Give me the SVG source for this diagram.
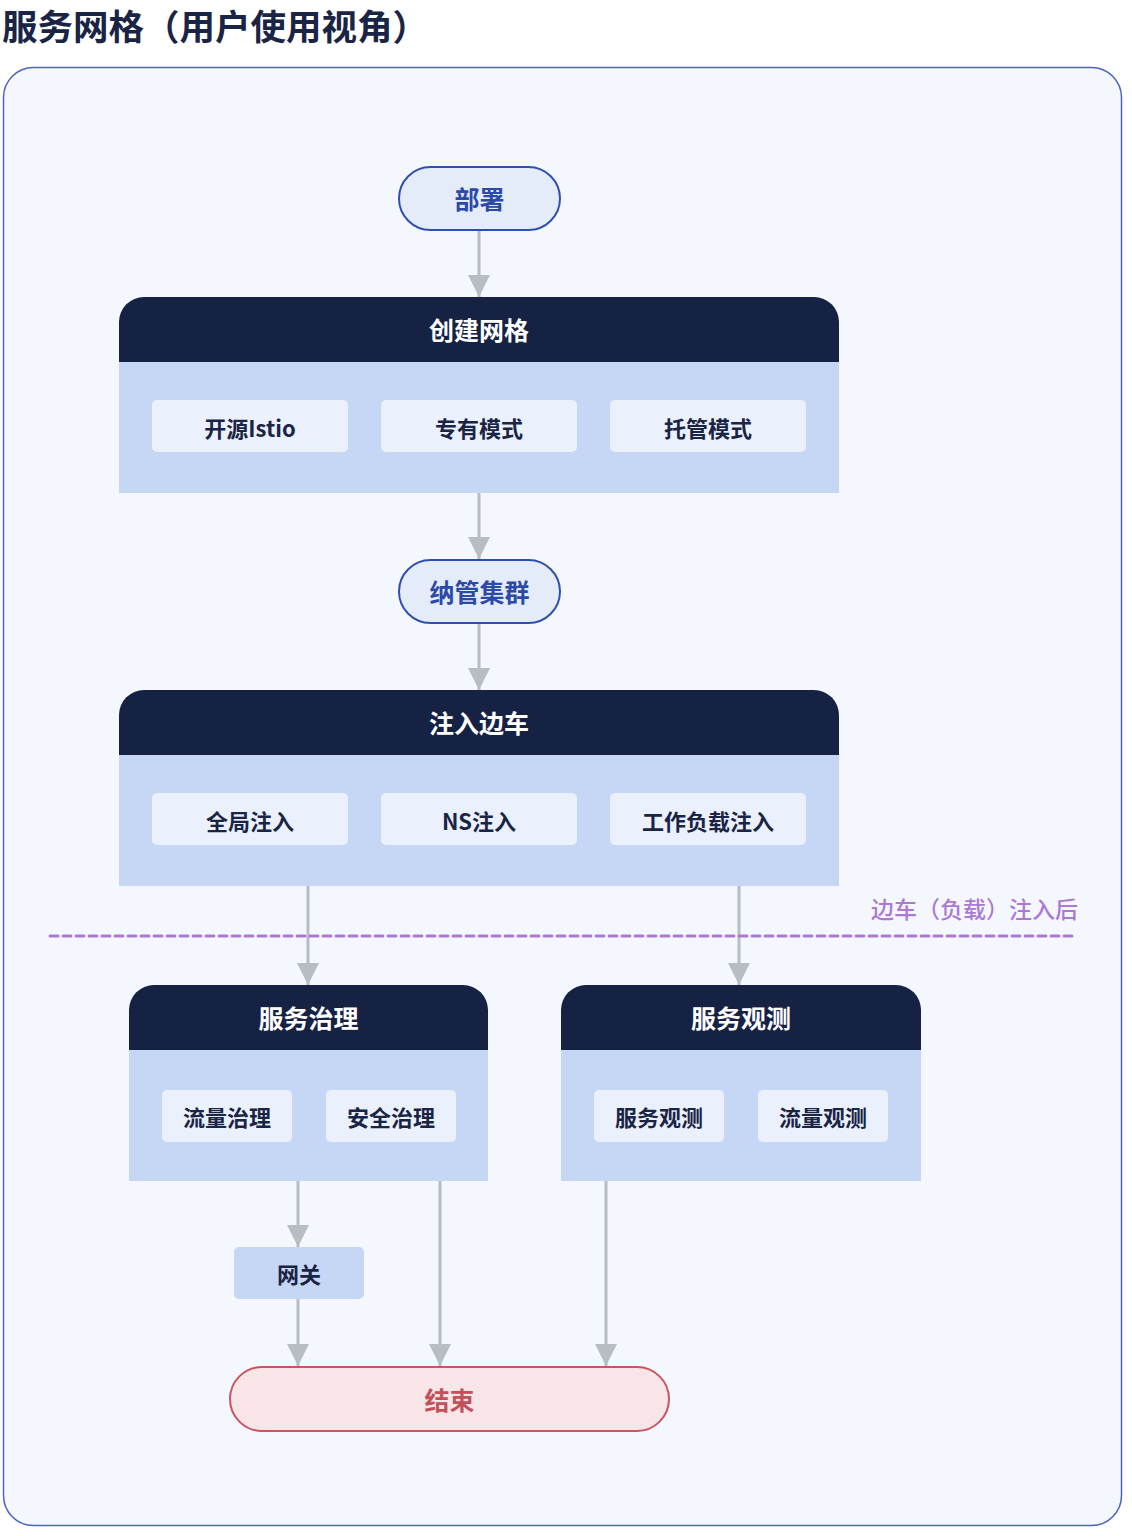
<svg xmlns="http://www.w3.org/2000/svg" width="1132" height="1536" viewBox="0 0 1132 1536">
<defs>
<style>
text{font-family:"Noto Sans CJK SC","Noto Sans",sans-serif;text-anchor:middle;dominant-baseline:central}
.title{font-size:35.5px;font-weight:700;fill:#1a2444;text-anchor:start;dominant-baseline:auto}
.pill{fill:#e4ebf9;stroke:#2f4fb0;stroke-width:2}
.pilltxt{font-size:25px;font-weight:700;fill:#2b4aa8}
.hdr{fill:#162244}
.hdrtxt{font-size:25px;font-weight:700;fill:#ffffff}
.body{fill:#c6d7f5}
.item{fill:#eaf1fd}
.itemtxt{font-size:22px;font-weight:700;fill:#1a2444}
.conn{stroke:#b8bcc3;stroke-width:3;fill:none}
.sep{stroke:#ac78d6;stroke-width:3;stroke-dasharray:8 5;stroke-linecap:round;fill:none}
.septxt{font-size:23px;font-weight:500;fill:#ac78d6;text-anchor:end}
.endp{fill:#f8e5e7;stroke:#c95560;stroke-width:2}
.endtxt{font-size:25px;font-weight:700;fill:#c4505a}
</style>
<marker id="arr" viewBox="0 0 22 22" refX="22" refY="11" markerWidth="22" markerHeight="22" markerUnits="userSpaceOnUse" orient="auto">
<path d="M0,0 L22,11 L0,22 Z" fill="#b8bcc3"/>
</marker>
</defs>
<rect width="1132" height="1536" fill="#ffffff"/>
<text class="title" x="2" y="40">服务网格（用户使用视角）</text>
<rect id="container" x="3.5" y="67.5" width="1118" height="1458" rx="30" fill="#f4f8fe" stroke="#4a64c0" stroke-width="1.5"/>

<g id="connectors">
<line class="conn" x1="479" y1="231" x2="479" y2="297" marker-end="url(#arr)"/>
<line class="conn" x1="479" y1="493" x2="479" y2="559" marker-end="url(#arr)"/>
<line class="conn" x1="479" y1="624" x2="479" y2="690" marker-end="url(#arr)"/>
<line class="conn" x1="308" y1="886" x2="308" y2="985" marker-end="url(#arr)"/>
<line class="conn" x1="739" y1="886" x2="739" y2="985" marker-end="url(#arr)"/>
<line class="conn" x1="298" y1="1181" x2="298" y2="1247" marker-end="url(#arr)"/>
<line class="conn" x1="298" y1="1299" x2="298" y2="1366" marker-end="url(#arr)"/>
<line class="conn" x1="440" y1="1181" x2="440" y2="1366" marker-end="url(#arr)"/>
<line class="conn" x1="606" y1="1181" x2="606" y2="1366" marker-end="url(#arr)"/>
</g>

<g id="separator">
<line class="sep" x1="50" y1="936" x2="1077" y2="936"/>
<text class="septxt" x="1078" y="908">边车（负载）注入后</text>
</g>

<g id="deploy">
<rect class="pill" x="399" y="167" width="161" height="63" rx="31.5"/>
<text class="pilltxt" x="479.5" y="198">部署</text>
</g>

<g id="create-mesh">
<path class="hdr" d="M119,362 V322 A25,25 0 0 1 144,297 H814 A25,25 0 0 1 839,322 V362 Z"/>
<rect class="body" x="119" y="362" width="720" height="131"/>
<text class="hdrtxt" x="479" y="329">创建网格</text>
<rect class="item" x="152" y="400" width="196" height="52" rx="5"/>
<text class="itemtxt" x="250" y="427">开源Istio</text>
<rect class="item" x="381" y="400" width="196" height="52" rx="5"/>
<text class="itemtxt" x="479" y="427">专有模式</text>
<rect class="item" x="610" y="400" width="196" height="52" rx="5"/>
<text class="itemtxt" x="708" y="427">托管模式</text>
</g>

<g id="manage-cluster">
<rect class="pill" x="399" y="560" width="161" height="63" rx="31.5"/>
<text class="pilltxt" x="479.5" y="591">纳管集群</text>
</g>

<g id="inject-sidecar">
<path class="hdr" d="M119,755 V715 A25,25 0 0 1 144,690 H814 A25,25 0 0 1 839,715 V755 Z"/>
<rect class="body" x="119" y="755" width="720" height="131"/>
<text class="hdrtxt" x="479" y="722">注入边车</text>
<rect class="item" x="152" y="793" width="196" height="52" rx="5"/>
<text class="itemtxt" x="250" y="820">全局注入</text>
<rect class="item" x="381" y="793" width="196" height="52" rx="5"/>
<text class="itemtxt" x="479" y="820">NS注入</text>
<rect class="item" x="610" y="793" width="196" height="52" rx="5"/>
<text class="itemtxt" x="708" y="820">工作负载注入</text>
</g>

<g id="service-governance">
<path class="hdr" d="M129,1050 V1010 A25,25 0 0 1 154,985 H463 A25,25 0 0 1 488,1010 V1050 Z"/>
<rect class="body" x="129" y="1050" width="359" height="131"/>
<text class="hdrtxt" x="308.5" y="1017">服务治理</text>
<rect class="item" x="162" y="1090" width="130" height="52" rx="5"/>
<text class="itemtxt" x="227" y="1116">流量治理</text>
<rect class="item" x="326" y="1090" width="130" height="52" rx="5"/>
<text class="itemtxt" x="391" y="1116">安全治理</text>
</g>

<g id="service-observe">
<path class="hdr" d="M561,1050 V1010 A25,25 0 0 1 586,985 H896 A25,25 0 0 1 921,1010 V1050 Z"/>
<rect class="body" x="561" y="1050" width="360" height="131"/>
<text class="hdrtxt" x="741" y="1017">服务观测</text>
<rect class="item" x="594" y="1090" width="130" height="52" rx="5"/>
<text class="itemtxt" x="659" y="1116">服务观测</text>
<rect class="item" x="758" y="1090" width="130" height="52" rx="5"/>
<text class="itemtxt" x="823" y="1116">流量观测</text>
</g>

<g id="gateway">
<rect class="body" x="234" y="1247" width="130" height="52" rx="5"/>
<text class="itemtxt" x="299" y="1273">网关</text>
</g>

<g id="end">
<rect class="endp" x="230" y="1367" width="439" height="64" rx="32"/>
<text class="endtxt" x="449.5" y="1399">结束</text>
</g>
</svg>
